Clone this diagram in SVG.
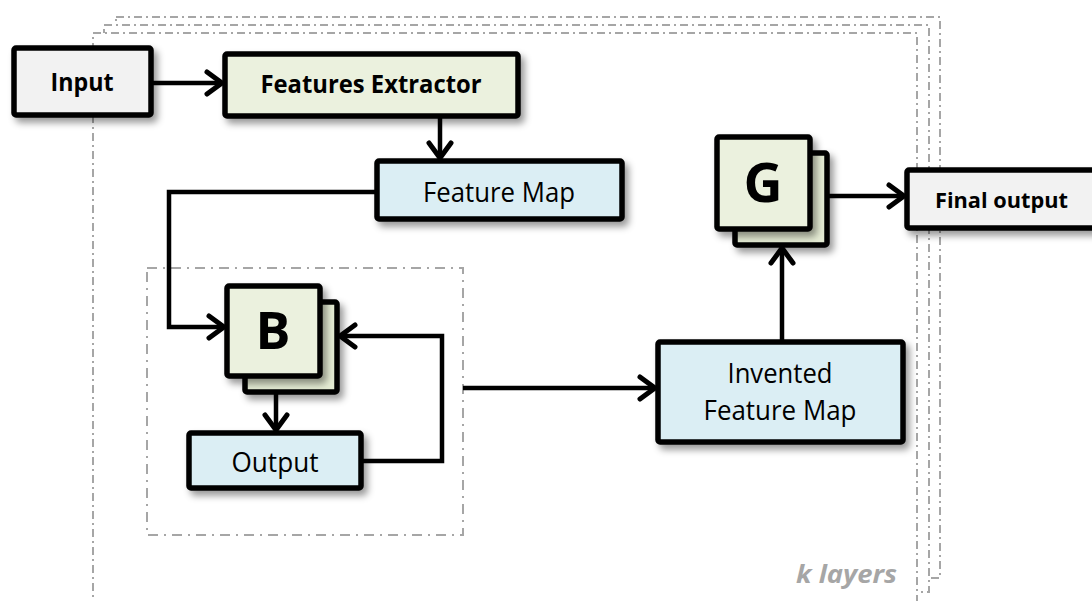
<svg xmlns="http://www.w3.org/2000/svg" width="1092" height="601" viewBox="0 0 1092 601">
  <defs>
    <style>
      .layer { fill: #ffffff; stroke: #a6a6a6; stroke-width: 2; stroke-dasharray: 8 4 2 4; }
      .inner { fill: none; stroke: #a6a6a6; stroke-width: 2; stroke-dasharray: 10 6 2 6; }
      .box { stroke: #000000; stroke-width: 5.5; filter: url(#shadow); }
      .grey { fill: #f2f2f2; }
      .green { fill: #ebf1de; }
      .green2 { fill: #e4ebd3; }
      .blue { fill: #dbeef4; }
      .conn { fill: none; stroke: #000000; stroke-width: 4.5; marker-end: url(#arrow); }
      .t { font-family: "Open Sans", "Liberation Sans", sans-serif; fill: #000000; text-anchor: middle; }
      .b { font-weight: bold; }
    </style>
    <filter id="shadow" x="-20%" y="-20%" width="150%" height="160%">
      <feDropShadow dx="4" dy="5" stdDeviation="3.5" flood-color="#000000" flood-opacity="0.4"/>
    </filter>
    <marker id="arrow" markerUnits="userSpaceOnUse" markerWidth="26" markerHeight="30" refX="18" refY="14" orient="auto" overflow="visible">
      <path d="M3,3 L18,14 L3,25" fill="none" stroke="#000000" stroke-width="5" stroke-linecap="round" stroke-linejoin="round"/>
    </marker>
  </defs>

  <g id="layers">
    <rect class="layer" x="116" y="17" width="824" height="561"/>
    <rect class="layer" x="104" y="25" width="825" height="567"/>
    <rect class="layer" x="93" y="33" width="824" height="607"/>
    <text class="t b" x="897" y="583" font-size="25" font-style="italic" textLength="101" lengthAdjust="spacingAndGlyphs" style="fill:#a6a6a6;text-anchor:end">k layers</text>
  </g>

  <g id="loop-group">
    <rect class="inner" x="147" y="268" width="316" height="267"/>
  </g>

  <g id="connectors">
    <path class="conn" d="M153,83 H222"/>
    <path class="conn" d="M440,118 V158"/>
    <path class="conn" d="M375,192 H169 V327 H224"/>
    <path class="conn" d="M276,394 V430"/>
    <path class="conn" d="M363,461 H442 V336 H340"/>
    <path class="conn" d="M463,388 H655"/>
    <path class="conn" d="M782,340 V248"/>
    <path class="conn" d="M829,196 H904"/>
  </g>

  <g id="input">
    <rect class="box grey" x="14" y="48" width="137" height="67" rx="2"/>
    <text class="t b" x="82" y="91" font-size="25" textLength="63" lengthAdjust="spacingAndGlyphs">Input</text>
  </g>

  <g id="features-extractor">
    <rect class="box green" x="225" y="54" width="293" height="62" rx="2"/>
    <text class="t b" x="371" y="93" font-size="25" textLength="221" lengthAdjust="spacingAndGlyphs">Features Extractor</text>
  </g>

  <g id="feature-map">
    <rect class="box blue" x="377" y="161" width="245" height="58" rx="2"/>
    <text class="t" x="499" y="202" font-size="27" textLength="152" lengthAdjust="spacingAndGlyphs">Feature Map</text>
  </g>

  <g id="b-block">
    <rect class="box green2" x="245" y="302" width="92" height="90" rx="2"/>
    <rect class="box green" x="227" y="286" width="93" height="90" rx="2"/>
    <text class="t b" x="273" y="349" font-size="52">B</text>
  </g>

  <g id="output">
    <rect class="box blue" x="189" y="433" width="172" height="55" rx="2"/>
    <text class="t" x="275" y="472" font-size="27" textLength="87" lengthAdjust="spacingAndGlyphs">Output</text>
  </g>

  <g id="invented-feature-map">
    <rect class="box blue" x="658" y="342" width="245" height="100" rx="2"/>
    <text class="t" x="780" y="383" font-size="27" textLength="105" lengthAdjust="spacingAndGlyphs">Invented</text>
    <text class="t" x="780" y="420" font-size="27" textLength="153" lengthAdjust="spacingAndGlyphs">Feature Map</text>
  </g>

  <g id="g-block">
    <rect class="box green2" x="735" y="153" width="92" height="92" rx="2"/>
    <rect class="box green" x="717" y="137" width="93" height="92" rx="2"/>
    <text class="t b" x="763" y="202" font-size="54">G</text>
  </g>

  <g id="final-output">
    <rect class="box grey" x="907" y="170" width="200" height="58" rx="2"/>
    <text class="t b" x="935" y="208" font-size="22" textLength="133" lengthAdjust="spacingAndGlyphs" style="text-anchor:start">Final output</text>
  </g>
</svg>
